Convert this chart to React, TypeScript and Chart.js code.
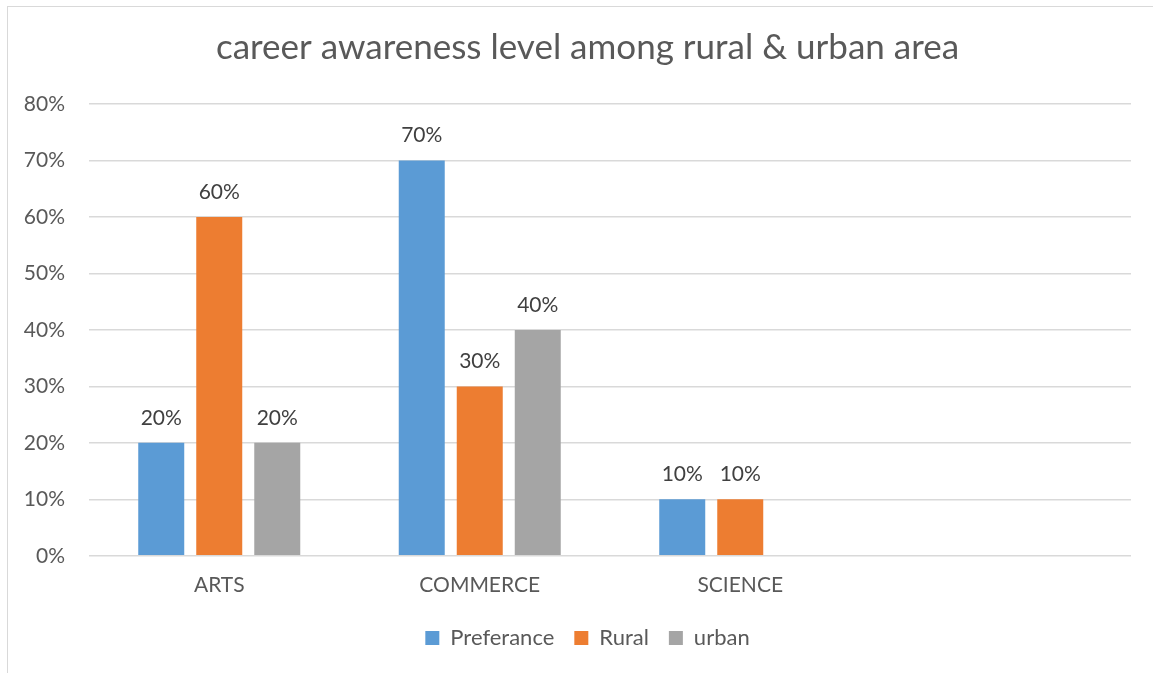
import React, { useEffect, useRef } from "react";
import { Chart, registerables } from "chart.js";

Chart.register(...registerables);

const categories = ["ARTS", "COMMERCE", "SCIENCE", ""];
const preferance = [20, 70, 10, null];
const rural = [60, 30, 10, null];
const urban = [20, 40, null, null];
const seriesNames = ["Preferance", "Rural", "urban"];
const yTicks = [0, 10, 20, 30, 40, 50, 60, 70, 80];

const FONT = "Lato, 'Open Sans', sans-serif";

const dataLabels = {
  id: "dataLabels",
  afterDatasetsDraw(chart: any) {
    const ctx = chart.ctx;
    ctx.save();
    ctx.font = `21px ${FONT}`;
    ctx.fillStyle = "#404040";
    ctx.textAlign = "center";
    ctx.textBaseline = "middle";
    chart.data.datasets.forEach((ds: any, i: number) => {
      const meta = chart.getDatasetMeta(i);
      meta.data.forEach((bar: any, j: number) => {
        const v = ds.data[j];
        if (v === null || v === undefined) return;
        ctx.fillText(v + "%", bar.x, bar.y - 25);
      });
    });
    ctx.restore();
  },
};

const yLabels = {
  id: "yLabels",
  afterDraw(chart: any) {
    const ctx = chart.ctx;
    const y = chart.scales.y;
    ctx.save();
    ctx.font = `21px ${FONT}`;
    ctx.fillStyle = "#595959";
    ctx.textAlign = "right";
    ctx.textBaseline = "middle";
    yTicks.forEach((v) => {
      ctx.fillText(v + "%", chart.chartArea.left - 24, y.getPixelForValue(v));
    });
    ctx.restore();
  },
};

export default function App() {
  const ref = useRef<HTMLCanvasElement>(null);
  useEffect(() => {
    if (!ref.current) return;
    const chart = new Chart(ref.current, {
      type: "bar",
      data: {
        labels: categories,
        datasets: [
          { label: seriesNames[0], data: preferance, backgroundColor: "#5B9BD5" },
          { label: seriesNames[1], data: rural, backgroundColor: "#ED7D31" },
          { label: seriesNames[2], data: urban, backgroundColor: "#A5A5A5" },
        ],
      },
      options: {
        responsive: false,
        animation: false,
        events: [],
        layout: { padding: { left: 44, right: 22, top: 0, bottom: 14 } },
        datasets: { bar: { categoryPercentage: 0.668, barPercentage: 0.793 } },
        plugins: {
          title: {
            display: true,
            text: "career awareness level among rural & urban area",
            color: "#595959",
            font: { family: FONT, size: 35, weight: "normal" },
            padding: { top: 27, bottom: 35 },
          },
          legend: {
            position: "bottom",
            labels: {
              boxWidth: 14,
              boxHeight: 14,
              padding: 20,
              color: "#595959",
              font: { family: FONT, size: 22 },
            },
          },
          tooltip: { enabled: false },
        },
        scales: {
          x: {
            afterFit(scale: any) {
              scale.height -= 8;
            },
            grid: { display: false, drawTicks: false },
            border: { display: false },
            ticks: { color: "#595959", font: { family: FONT, size: 21 }, padding: 17 },
          },
          y: {
            min: 0,
            max: 80,
            afterFit(scale: any) {
              scale.width = 45;
            },
            afterBuildTicks(scale: any) {
              scale.ticks = yTicks.map((v) => ({ value: v }));
            },
            grid: { color: "#d9d9d9", lineWidth: 1.5, drawTicks: false },
            border: { display: false },
            ticks: { display: false },
          },
        },
      },
      plugins: [dataLabels, yLabels],
    });
    return () => chart.destroy();
  }, []);
  return (
    <div style={{ position: "absolute", left: 0, top: 0, width: 1153, height: 673, background: "#fff" }}>
      <div
        style={{
          position: "absolute",
          left: 7,
          top: 6,
          width: 1146,
          height: 667,
          borderLeft: "1px solid #d9d9d9",
          borderTop: "1px solid #d9d9d9",
          boxSizing: "border-box",
        }}
      />
      <canvas ref={ref} width={1153} height={673} style={{ position: "absolute", left: 0, top: 0, width: 1153, height: 673 }} />
    </div>
  );
}
